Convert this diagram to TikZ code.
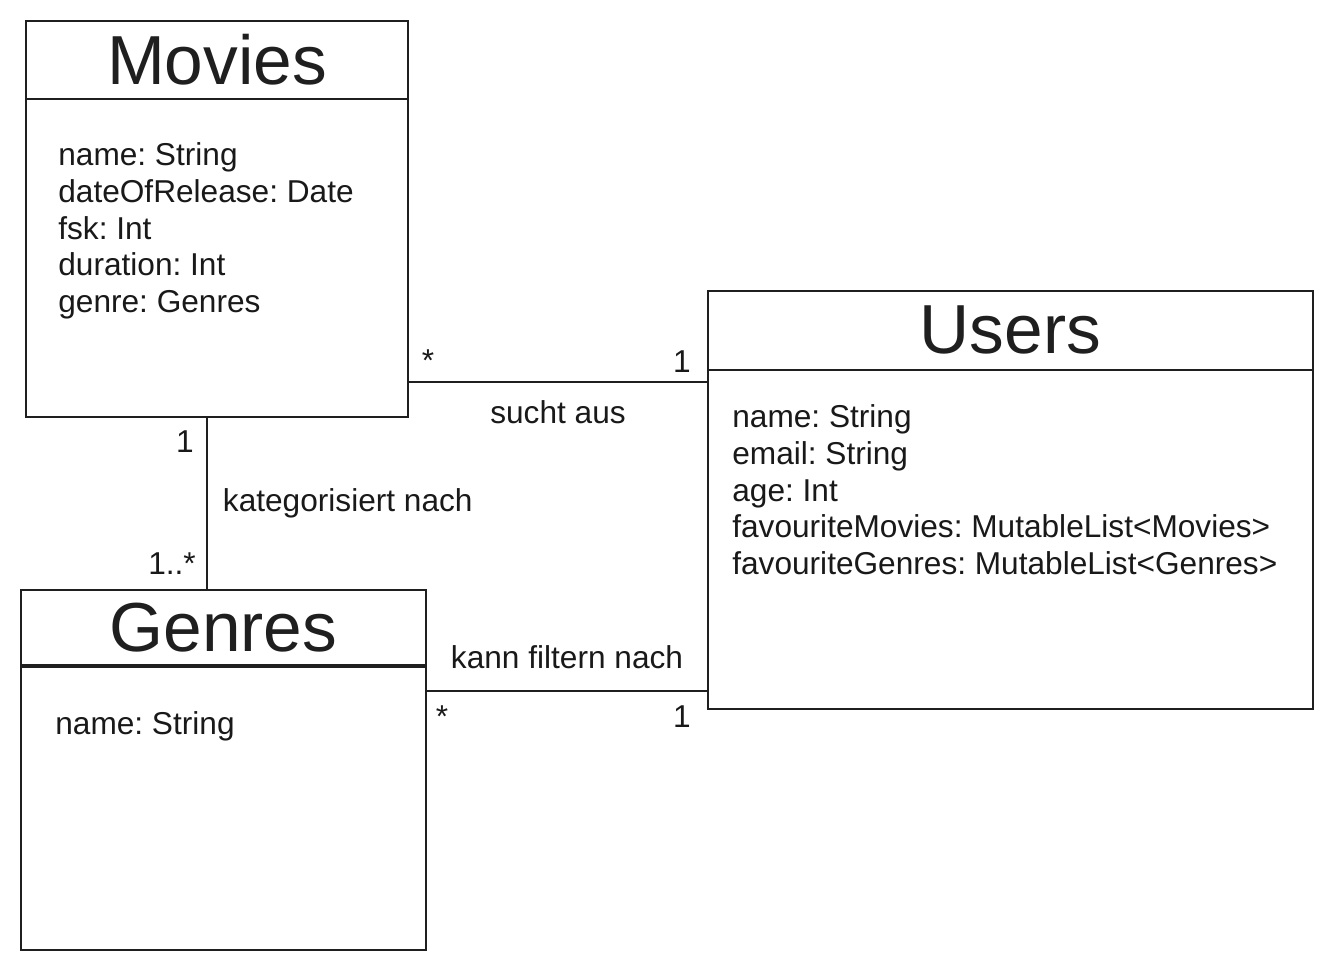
\documentclass[tikz,border=0pt]{standalone}
\usepackage{fontspec}
\setmainfont{Liberation Sans}
\usetikzlibrary{positioning,calc}
\frenchspacing

\begin{document}
\begin{tikzpicture}[
            x=0.02cm, y=-0.02cm,
            classbox/.style={
                    draw=black!88,
                    fill=white,
                    rectangle,
                    line width=1.2pt,
                    anchor=north west,
                    inner sep=0pt
                },
            sepLine/.style={
                    draw=black!88,
                    line width=1.2pt
                },
            classTitle/.style={
                    font=\fontsize{39.5}{46}\selectfont,
                    text=black!88,
                    inner sep=0pt
                },
            attrList/.style={
                    font=\fontsize{18}{21}\selectfont,
                    text=black!90,
                    align=left,
                    anchor=north west,
                    inner sep=0pt
                },
            assoc/.style={
                    draw=black!88,
                    line width=1.1pt
                },
            labelAssoc/.style={
                    font=\fontsize{18}{21}\selectfont,
                    text=black!90,
                    inner sep=0pt
                },
            mult/.style={
                    font=\fontsize{18}{21}\selectfont,
                    text=black!90,
                    inner sep=0pt
                }
            ]

            \useasboundingbox (0,0) rectangle (1332,970);

            % Klasse Movies (oben links)
            \node[classbox, minimum width=7.64cm, minimum height=7.92cm] (movies) at (25,20) {};
            \coordinate (moviesSep) at (25,99);
            \draw[sepLine] (moviesSep) -- (moviesSep -| movies.east);
            \node[classTitle] (moviesTitle) at ($(movies.north)!0.5!(moviesSep -| movies.north)$) {Movies};
            \node[attrList] (moviesAttrs) at (58,142) {
                name: String \\
                dateOfRelease: Date \\
                fsk: Int \\
                duration: Int \\
                genre: Genres
            };

            % Klasse Users (rechts)
            \node[classbox, minimum width=12.1cm, minimum height=8.36cm] (users) at (707,290) {};
            \coordinate (usersSep) at (707,370);
            \draw[sepLine] (usersSep) -- (usersSep -| users.east);
            \node[classTitle] (usersTitle) at ($(users.north)!0.5!(usersSep -| users.north)$) {Users};
            \node[attrList] (usersAttrs) at (732,404) {
                name: String \\
                email: String \\
                age: Int \\
                favouriteMovies: MutableList<Movies> \\
                favouriteGenres: MutableList<Genres>
            };

            % Klasse Genres (unten links)
            \node[classbox, minimum width=8.1cm, minimum height=7.2cm] (genres) at (20,589) {};
            \coordinate (genresSep) at (20,666);
            \draw[sepLine, line width=2pt] (genresSep) -- (genresSep -| genres.east);
            \node[classTitle] (genresTitle) at ($(genres.north)!0.5!(genresSep -| genres.north)$) {Genres};
            \node[attrList] (genresAttrs) at (55,711) {
                name: String
            };

            % --- Assoziationen ---

            % Movies -- Users
            \coordinate (suchtY) at (0,382);
            \draw[assoc] (movies.east |- suchtY) -- (users.west |- suchtY)
            node[midway, below=0.36cm, labelAssoc] (suchtLabel) {sucht aus};
            \node[mult] (suchtMovies) at (428,361) {*};
            \node[mult] (suchtUsers) at (682,362) {1};

            % Movies -- Genres
            \coordinate (kategX) at (207,0);
            \draw[assoc] (movies.south -| kategX) -- (genres.north -| kategX)
            node[midway, right=0.3cm, labelAssoc] (kategLabel) {kategorisiert nach};
            \node[mult] (kategMovies) at (185,442) {1};
            \node[mult] (kategGenres) at (172,564) {1..*};

            % Genres -- Users
            \coordinate (filterY) at (0,691);
            \draw[assoc] (genres.east |- filterY) -- (users.west |- filterY)
            node[midway, above=0.42cm, labelAssoc] (filterLabel) {kann filtern nach};
            \node[mult] (filterGenres) at (442,717) {*};
            \node[mult] (filterUsers) at (682,717) {1};

        \end{tikzpicture}
\end{document}
